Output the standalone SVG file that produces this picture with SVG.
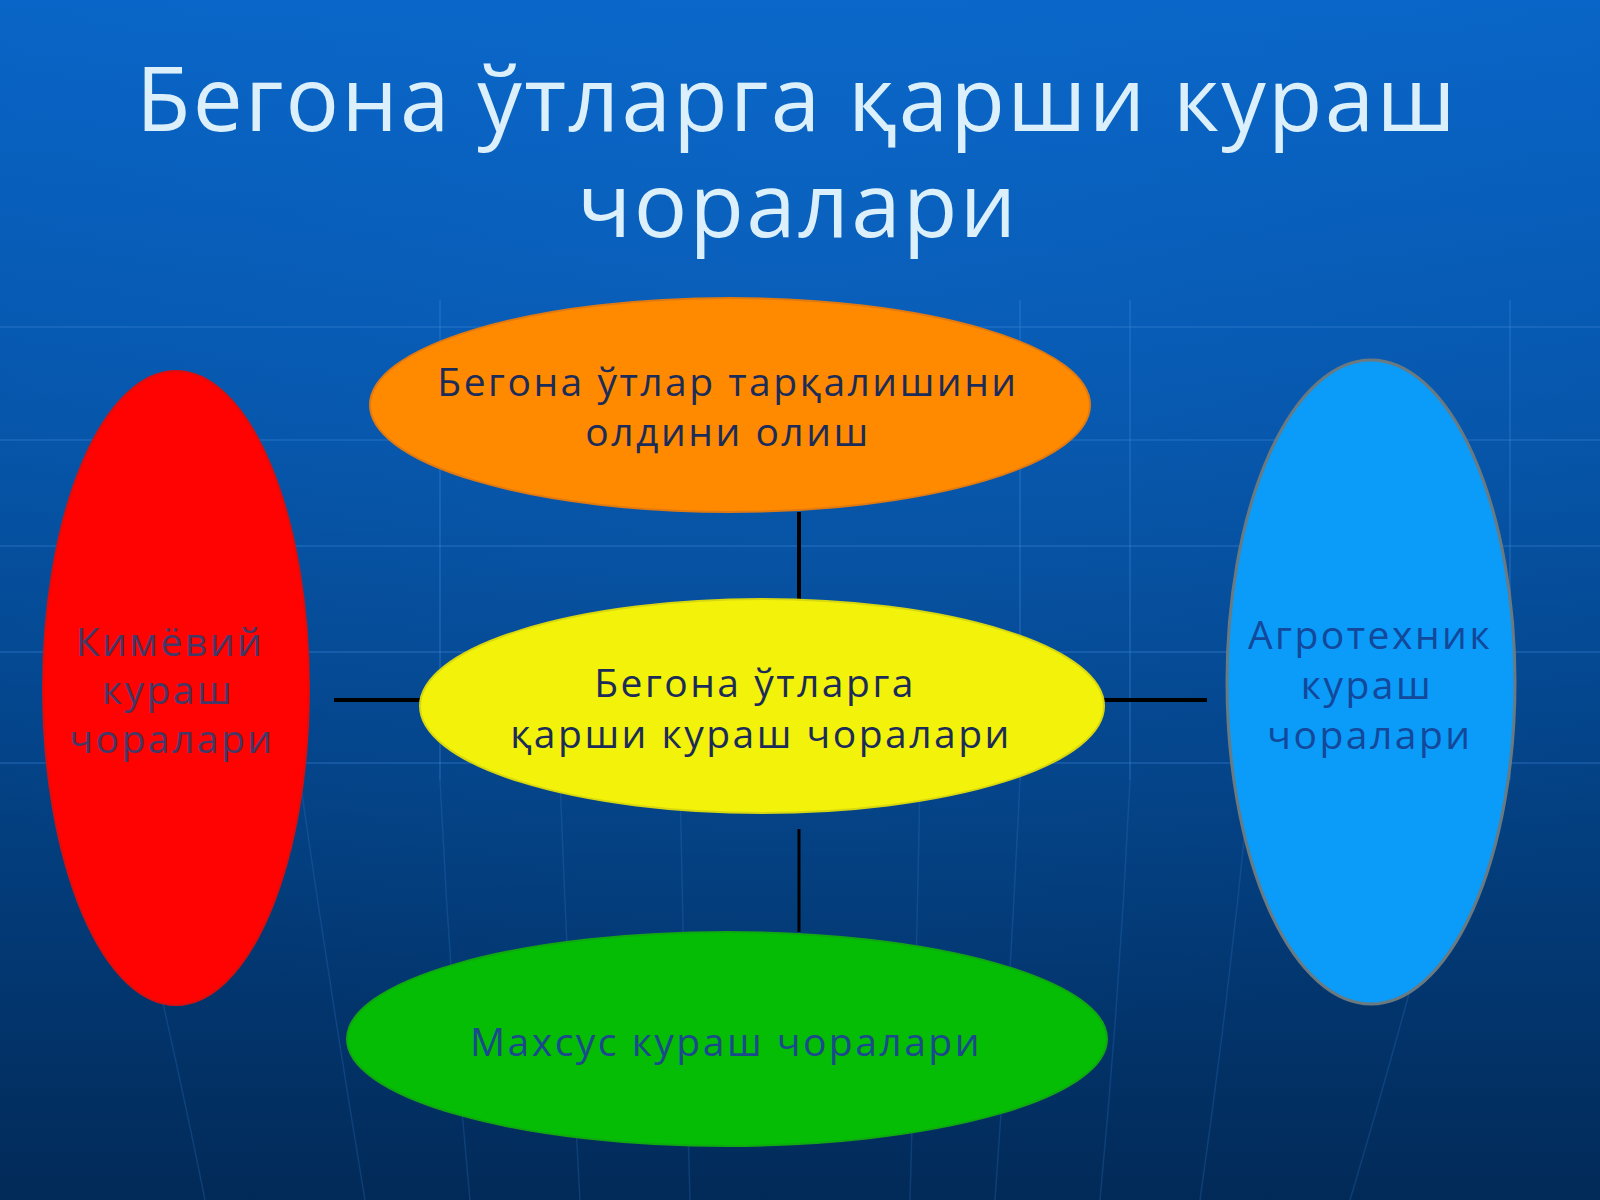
<svg xmlns="http://www.w3.org/2000/svg" width="1600" height="1200" viewBox="0 0 1600 1200">
  <defs>
    <linearGradient id="bg" x1="0" y1="0" x2="0" y2="1">
      <stop offset="0" stop-color="#0864c6"/>
      <stop offset="0.35" stop-color="#0554a8"/>
      <stop offset="0.7" stop-color="#033e7e"/>
      <stop offset="1" stop-color="#022a58"/>
    </linearGradient>
    <radialGradient id="glow" cx="0.5" cy="0.2" r="0.7">
      <stop offset="0" stop-color="#1a7ae0" stop-opacity="0.2"/>
      <stop offset="1" stop-color="#1a7ae0" stop-opacity="0"/>
    </radialGradient>
  </defs>
  <style>
    .grid { stroke: #3a86d8; stroke-opacity: 0.3; stroke-width: 2; fill: none; }
    .persp { stroke: #3a86d8; stroke-opacity: 0.22; stroke-width: 1.5; fill: none; }
    .title { font-family: "Open Sans", "Noto Sans", "DejaVu Sans", sans-serif; font-size: 89px; fill: #dcf0fb; text-anchor: middle; letter-spacing: 2.3px; }
    .lbl { font-family: "Open Sans", "Noto Sans", "DejaVu Sans", sans-serif; font-size: 39px; text-anchor: middle; letter-spacing: 2.5px; }
    .conn { stroke: #000000; fill: none; }
  </style>

  <rect x="0" y="0" width="1600" height="1200" fill="url(#bg)"/>
  <rect x="0" y="0" width="1600" height="1200" fill="url(#glow)"/>

  <g id="background-grid">
    <line class="grid" x1="0" y1="327" x2="1600" y2="327"/>
    <line class="grid" x1="0" y1="440" x2="1600" y2="440"/>
    <line class="grid" x1="0" y1="546" x2="1600" y2="546"/>
    <line class="grid" x1="0" y1="652" x2="1600" y2="652"/>
    <line class="grid" x1="0" y1="763" x2="1600" y2="763" stroke-opacity="0.55"/>
    <line class="grid" x1="440" y1="300" x2="440" y2="780"/>
    <line class="grid" x1="1020" y1="300" x2="1020" y2="780"/>
    <line class="grid" x1="1130" y1="300" x2="1130" y2="780"/>
    <line class="grid" x1="1510" y1="300" x2="1510" y2="780"/>
    <path class="persp" d="M160 990 Q185 1100 205 1200"/>
    <path class="persp" d="M300 780 Q330 990 365 1200"/>
    <path class="persp" d="M440 780 Q450 990 470 1200"/>
    <path class="persp" d="M560 780 Q568 990 580 1200"/>
    <path class="persp" d="M680 780 Q684 990 690 1200"/>
    <path class="persp" d="M920 780 Q916 990 910 1200"/>
    <path class="persp" d="M1020 780 Q1010 990 995 1200"/>
    <path class="persp" d="M1130 780 Q1120 990 1100 1200"/>
    <path class="persp" d="M1250 780 Q1230 990 1200 1200"/>
    <path class="persp" d="M1410 990 Q1380 1100 1350 1200"/>
  </g>

  <g id="title">
    <text class="title" x="797" y="131">Бегона ўтларга қарши кураш</text>
    <text class="title" x="798" y="237">чоралари</text>
  </g>

  <g id="connectors">
    <line class="conn" x1="799" y1="512" x2="799" y2="601" stroke-width="4"/>
    <line class="conn" x1="799" y1="829" x2="799" y2="932" stroke-width="3"/>
    <line class="conn" x1="334" y1="700" x2="422" y2="700" stroke-width="4"/>
    <line class="conn" x1="1102" y1="700" x2="1207" y2="700" stroke-width="4"/>
  </g>

  <g id="node-prevention">
    <ellipse cx="730" cy="405" rx="360" ry="107" fill="#ff8a00" stroke="#e07a10" stroke-width="2"/>
    <text class="lbl" x="728" y="396" fill="#1c2c58">Бегона ўтлар тарқалишини</text>
    <text class="lbl" x="728" y="446" fill="#1c2c58">олдини олиш</text>
  </g>

  <g id="node-center">
    <ellipse cx="762" cy="706" rx="342" ry="107" fill="#f2f20a" stroke="#d8d810" stroke-width="2"/>
    <text class="lbl" x="755" y="697" fill="#1c2c58">Бегона ўтларга</text>
    <text class="lbl" x="761" y="748" fill="#1c2c58">қарши кураш чоралари</text>
  </g>

  <g id="node-special">
    <ellipse cx="727" cy="1039" rx="380" ry="107" fill="#05bd05" stroke="#10a810" stroke-width="2"/>
    <text class="lbl" x="726" y="1056" fill="#1a4a8c">Махсус кураш чоралари</text>
  </g>

  <g id="node-chemical">
    <ellipse cx="176" cy="688" rx="133" ry="317" fill="#ff0202" stroke="#d81010" stroke-width="2"/>
    <text class="lbl" x="170" y="656" fill="#443866">Кимёвий</text>
    <text class="lbl" x="168" y="704" fill="#443866">кураш</text>
    <text class="lbl" x="172" y="753" fill="#443866">чоралари</text>
  </g>

  <g id="node-agro">
    <ellipse cx="1371" cy="682" rx="144" ry="322" fill="#0a9cf8" stroke="#6a7a80" stroke-width="3"/>
    <text class="lbl" x="1370" y="649" fill="#13489a">Агротехник</text>
    <text class="lbl" x="1367" y="699" fill="#13489a">кураш</text>
    <text class="lbl" x="1370" y="749" fill="#13489a">чоралари</text>
  </g>
</svg>
